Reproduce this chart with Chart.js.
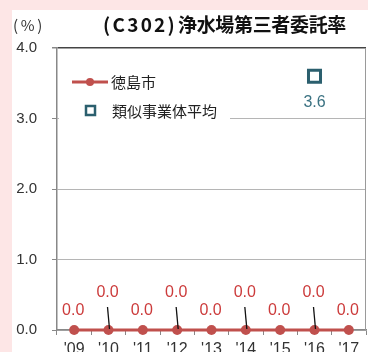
<!DOCTYPE html>
<html><head><meta charset="utf-8">
<script src="https://cdn.jsdelivr.net/npm/chart.js@4"></script>
<style>html,body{margin:0;padding:0;background:#fde6e6;}#wrap{width:368px;height:352px;}</style>
</head><body><div id="wrap"><canvas id="c" width="368" height="352"></canvas></div>
<script>
const categories = ["'09","'10","'11","'12","'13","'14","'15","'16","'17"];
const cityValues = [0.0,0.0,0.0,0.0,0.0,0.0,0.0,0.0,0.0];
const avgValues = [null,null,null,null,null,null,null,3.6,null];
const yTicks = [0,1,2,3,4];
const seriesNames = ['徳島市','類似事業体平均'];
const titleText = '(C302)浄水場第三者委託率';
const unitText = '(%)';

const RED = '#c0504d', LABELRED = '#cc3b3b', TEAL = '#2b5f6e', TEAL_TXT = '#3b7282';
const FONT = '"Liberation Sans", Arial, sans-serif';
const JFONT = '"Noto Sans CJK JP", sans-serif';

function fitText(ctx, text, x, y, targetW){
  ctx.letterSpacing = '0px';
  const w = ctx.measureText(text).width;
  const sp = (targetW - w) / text.length;
  ctx.letterSpacing = sp.toFixed(2) + 'px';
  ctx.fillText(text, x, y);
  ctx.letterSpacing = '0px';
}

const bgPlugin = {
  id:'bg',
  beforeDraw(chart){
    const ctx = chart.ctx;
    ctx.save();
    ctx.fillStyle = '#fde6e6'; ctx.fillRect(0,0,chart.width,chart.height);
    ctx.fillStyle = '#ffffff'; ctx.fillRect(12,10,chart.width-12,chart.height-10);
    ctx.restore();
  }
};

const decoPlugin = {
  id:'deco',
  afterDatasetsDraw(chart){
    const ctx = chart.ctx, ca = chart.chartArea;
    ctx.save();
    ctx.strokeStyle = '#9a9a9a'; ctx.lineWidth = 1;
    ctx.beginPath(); ctx.moveTo(ca.right-0.5, ca.top); ctx.lineTo(ca.right-0.5, ca.bottom); ctx.stroke();
    const m0 = chart.getDatasetMeta(0);
    ctx.font = '16px ' + FONT; ctx.textAlign='center'; ctx.textBaseline='middle';
    m0.data.forEach((p,i)=>{
      const v = cityValues[i]; if (v==null) return;
      const high = i%2===1;
      if (high){
        ctx.strokeStyle='#111'; ctx.lineWidth=1.3;
        ctx.beginPath(); ctx.moveTo(p.x-1, p.y-23); ctx.lineTo(p.x+1, p.y-1); ctx.stroke();
      }
      ctx.fillStyle = LABELRED;
      ctx.fillText(v.toFixed(1), p.x-1, p.y - (high?37:19));
    });
    const m1 = chart.getDatasetMeta(1);
    ctx.fillStyle = TEAL_TXT;
    m1.data.forEach((p,i)=>{
      const v = avgValues[i]; if (v==null) return;
      ctx.fillText(v.toFixed(1), p.x, p.y + 26);
    });
    ctx.restore();
  },
  afterDraw(chart){
    const ctx = chart.ctx;
    ctx.save();
    ctx.fillStyle='#fff'; ctx.fillRect(59,66,171,56);
    ctx.strokeStyle=RED; ctx.lineWidth=3;
    ctx.beginPath(); ctx.moveTo(72,82); ctx.lineTo(108,82); ctx.stroke();
    ctx.fillStyle=RED; ctx.beginPath(); ctx.arc(90,82,4,0,Math.PI*2); ctx.fill();
    ctx.fillStyle='#222'; ctx.font='15px '+JFONT; ctx.textAlign='left'; ctx.textBaseline='middle';
    ctx.fillText(seriesNames[0], 111, 82);
    ctx.strokeStyle=TEAL; ctx.lineWidth=2.5; ctx.fillStyle='#fff';
    ctx.fillRect(86,106,9,9); ctx.strokeRect(86,106,9,9);
    ctx.fillStyle='#222';
    ctx.fillText(seriesNames[1], 112, 111);
    ctx.fillStyle='#333'; ctx.font='15px '+JFONT;
    fitText(ctx, unitText, 13, 25, 32);
    ctx.fillStyle='#111'; ctx.font='bold 19px '+JFONT;
    fitText(ctx, titleText.slice(0,6), 103, 25, 74);
    fitText(ctx, titleText.slice(6), 178, 25, 168);
    ctx.restore();
  }
};

new Chart(document.getElementById('c'), {
  type:'line',
  data:{
    labels: categories,
    datasets:[
      {label:seriesNames[0], data:cityValues, borderColor:RED, backgroundColor:RED, borderWidth:3,
       pointRadius:5, pointHoverRadius:5, pointBackgroundColor:RED, pointBorderWidth:0, tension:0, clip:false},
      {label:seriesNames[1], data:avgValues, showLine:false, pointStyle:'rect', pointRadius:8.5, pointHoverRadius:8.5,
       borderColor:TEAL, backgroundColor:'#fff', pointBorderWidth:3, borderWidth:3, clip:false}
    ]
  },
  options:{
    responsive:false, animation:false, devicePixelRatio:1,
    layout:{autoPadding:false, padding:{top:48,right:2,left:0,bottom:0}},
    plugins:{legend:{display:false}, title:{display:false}, tooltip:{enabled:false}},
    scales:{
      x:{
        offset:true,
        grid:{offset:true, drawOnChartArea:false, drawTicks:true, tickLength:5, tickColor:'#888'},
        border:{color:'#888', width:1.5},
        ticks:{color:'#333', font:{size:16, family:FONT}, padding:5, maxRotation:0, autoSkip:false},
        afterFit(s){ s.height = 22; s.paddingLeft = 0; s.paddingRight = 0; }
      },
      y:{
        min:0, max:4,
        afterBuildTicks(s){ s.ticks = yTicks.map(v=>({value:v})); },
        grid:{color:(c)=> c.tick && c.tick.value===4 ? '#444' : '#b5b5b5', lineWidth:(c)=> c.tick && c.tick.value===4 ? 1.5 : 1, tickLength:5, tickColor:'#888'},
        border:{color:'#888', width:1.5},
        ticks:{color:'#333', font:{size:15, family:FONT}, padding:15, callback:(v)=>Number(v).toFixed(1)},
        afterFit(s){ s.width = 57; s.paddingTop = 0; s.paddingBottom = 0; }
      }
    }
  },
  plugins:[bgPlugin, decoPlugin]
});
</script>
</body></html>
